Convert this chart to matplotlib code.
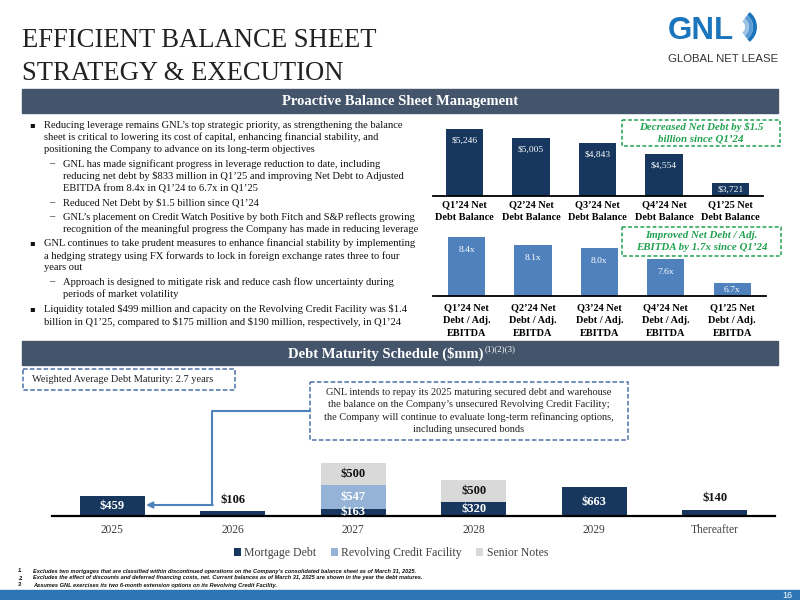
import matplotlib
matplotlib.use("Agg")
import matplotlib.pyplot as plt
from matplotlib.patches import Rectangle, Arc

plt.rcParams['font.family'] = ['Liberation Serif', 'DejaVu Sans']
plt.rcParams['text.parse_math'] = False

# data
quarters_debt = ["Q1’24 Net\nDebt Balance", "Q2’24 Net\nDebt Balance", "Q3’24 Net\nDebt Balance",
                 "Q4’24 Net\nDebt Balance", "Q1’25 Net\nDebt Balance"]
net_debt = [5246, 5005, 4843, 4554, 3721]
net_debt_labels = ["$5,246", "$5,005", "$4,843", "$4,554", "$3,721"]

quarters_lev = ["Q1’24 Net\nDebt / Adj.\nEBITDA", "Q2’24 Net\nDebt / Adj.\nEBITDA", "Q3’24 Net\nDebt / Adj.\nEBITDA",
                "Q4’24 Net\nDebt / Adj.\nEBITDA", "Q1’25 Net\nDebt / Adj.\nEBITDA"]
leverage = [8.4, 8.1, 8.0, 7.6, 6.7]

years = ["2025", "2026", "2027", "2028", "2029", "Thereafter"]
mortgage = [459, 106, 163, 320, 663, 140]
revolver = [0, 0, 547, 0, 0, 0]
senior = [0, 0, 500, 500, 0, 0]

# (marker level, indent level, text)
bullets = [
    (0, 0, "Reducing leverage remains GNL’s top strategic priority, as strengthening the balance"),
    (None, 0, "sheet is critical to lowering its cost of capital, enhancing financial stability, and"),
    (None, 0, "positioning the Company to advance on its long-term objectives"),
    (1, 1, "GNL has made significant progress in leverage reduction to date, including"),
    (None, 1, "reducing net debt by $833 million in Q1’25 and improving Net Debt to Adjusted"),
    (None, 1, "EBITDA from 8.4x in Q1’24 to 6.7x in Q1’25"),
    (1, 1, "Reduced Net Debt by $1.5 billion since Q1’24"),
    (1, 1, "GNL’s placement on Credit Watch Positive by both Fitch and S&P reflects growing"),
    (None, 1, "recognition of the meaningful progress the Company has made in reducing leverage"),
    (0, 0, "GNL continues to take prudent measures to enhance financial stability by implementing"),
    (None, 0, "a hedging strategy using FX forwards to lock in foreign exchange rates three to four"),
    (None, 0, "years out"),
    (1, 1, "Approach is designed to mitigate risk and reduce cash flow uncertainty during"),
    (None, 1, "periods of market volatility"),
    (0, 0, "Liquidity totaled $499 million and capacity on the Revolving Credit Facility was $1.4"),
    (None, 0, "billion in Q1’25, compared to $175 million and $190 million, respectively, in Q1’24"),
]
bullet_y = [125, 137, 150, 164, 176, 189, 203, 217, 229, 243, 256, 268, 282, 294, 309, 322]

footnotes = [
    "Excludes two mortgages that are classified within discontinued operations on the Company’s consolidated balance sheet as of March 31, 2025.",
    "Excludes the effect of discounts and deferred financing costs, net. Current balances as of March 31, 2025 are shown in the year the debt matures.",
    "Assumes GNL exercises its two 6-month extension options on its Revolving Credit Facility.",
]

NAVY = "#17375E"
MID = "#4F81BD"
LIGHT = "#95B3D7"
GREY = "#D9D9D9"
SLATE = "#44546A"
GREEN = "#1FA24F"
BOXBLUE = "#4A72A8"

W, H = 800, 600
fig = plt.figure(figsize=(8, 6), dpi=100)
ov = fig.add_axes([0, 0, 1, 1])
ov.set_xlim(0, W)
ov.set_ylim(H, 0)
ov.axis("off")


def px_axes(left, top, right, bottom):
    a = fig.add_axes([left / W, 1 - bottom / H, (right - left) / W, (bottom - top) / H])
    a.set_facecolor("none")
    for s in ["top", "right", "left"]:
        a.spines[s].set_visible(False)
    a.spines["bottom"].set_linewidth(1.3)
    a.set_yticks([])
    a.tick_params(axis="x", length=0)
    return a


# title + logo
ov.text(22, 47, "EFFICIENT BALANCE SHEET", fontsize=19.2, color="#222222", va="baseline")
ov.text(22, 80, "STRATEGY & EXECUTION", fontsize=19.2, color="#222222", va="baseline")
ov.text(668, 39, "GNL", family="Liberation Sans", fontweight="bold", fontsize=22.5, color="#1B75BC", va="baseline")
for r, c in zip([9, 13, 17], ["#9CC3E6", "#5B9BD5", "#1B75BC"]):
    ov.add_patch(Arc((738, 27), 2 * r, 2 * r, theta1=-52, theta2=52, color=c, lw=2.8))
ov.text(668, 59, "GLOBAL NET LEASE", family="Liberation Sans", fontsize=8.2, color="#333333", va="center")

# header bars
ov.add_patch(Rectangle((22, 89), 756, 24, color=SLATE))
ov.text(400, 101.5, "Proactive Balance Sheet Management", color="white", fontweight="bold", fontsize=10.5,
        ha="center", va="center")
ov.add_patch(Rectangle((22, 341), 756, 24, color=SLATE))
ov.text(483, 353.5, "Debt Maturity Schedule ($mm)", color="white", fontweight="bold", fontsize=10.5,
        ha="right", va="center")
ov.text(485, 349, "(1)(2)(3)", color="white", fontsize=6.5, ha="left", va="center")

# bullets
for (mark, indent, txt), y in zip(bullets, bullet_y):
    if mark == 0:
        ov.text(29, y, "▪", fontsize=6, va="center", color="#111111", family="DejaVu Sans")
    elif mark == 1:
        ov.text(49, y, "–", fontsize=7.6, va="center", color="#111111")
    ov.text(44 if indent == 0 else 63, y, txt, fontsize=7.6, va="center", color="#111111")

# net debt chart
ax1 = px_axes(433, 120, 763, 196)
ax1.bar(range(5), net_debt, width=0.56, color=NAVY)
ax1.set_xlim(-0.474, 4.489)
ax1.set_ylim(3354, 5501)
for i, (v, lab) in enumerate(zip(net_debt, net_debt_labels)):
    ax1.text(i, max(v - 339, (v + 3354) / 2), lab, color="white", fontsize=6.8, ha="center", va="center")
ax1.set_xticks(range(5))
ax1.set_xticklabels(quarters_debt, fontsize=7.4, fontweight="bold", linespacing=1.55)
ax1.tick_params(axis="x", pad=3)

# leverage chart
ax2 = px_axes(433, 230, 766, 296)
ax2.bar(range(5), leverage, width=0.56, color=MID)
ax2.set_xlim(-0.505, 4.51)
ax2.set_ylim(6.22, 8.66)
for i, v in enumerate(leverage):
    ax2.text(i, max(v - 0.48, (v + 6.22) / 2), f"{v:.1f}x", color="white", fontsize=6.8, ha="center", va="center")
ax2.set_xticks(range(5))
ax2.set_xticklabels(quarters_lev, fontsize=7.4, fontweight="bold", linespacing=1.55)
ax2.tick_params(axis="x", pad=5)

# green callouts
for (x0, y0, x1, y1), txt in [((622, 120, 780, 146), "Decreased Net Debt by $1.5\nbillion since Q1’24"),
                              ((622, 227, 781, 256), "Improved Net Debt / Adj.\nEBITDA by 1.7x since Q1’24")]:
    ov.add_patch(Rectangle((x0, y0), x1 - x0, y1 - y0, fill=False, ec=GREEN, lw=1.1, ls=(0, (2.5, 1.5))))
    ov.text((x0 + x1) / 2, (y0 + y1) / 2, txt, color=GREEN, fontsize=7.8, fontweight="bold", fontstyle="italic",
            ha="center", va="center", linespacing=1.35)

# debt maturity chart
ax3 = px_axes(52, 455, 775, 516)
x = range(len(years))
b1 = ax3.bar(x, mortgage, width=0.54, color=NAVY, label="Mortgage Debt")
b2 = ax3.bar(x, revolver, width=0.54, bottom=mortgage, color=LIGHT, label="Revolving Credit Facility")
bot2 = [m + r for m, r in zip(mortgage, revolver)]
b3 = ax3.bar(x, senior, width=0.54, bottom=bot2, color=GREY, label="Senior Notes")
ax3.set_xlim(-0.5, 5.5)
ax3.set_ylim(0, 1399)
ax3.spines["bottom"].set_linewidth(1.6)
for i in x:
    m = mortgage[i]
    if m >= 150:
        ax3.text(i, m / 2, f"${m}", color="white", fontsize=9, fontweight="bold", ha="center", va="center")
    else:
        ax3.annotate(f"${m}", (i, m), xytext=(0, 4), textcoords="offset points", color="#111111",
                     fontsize=9, fontweight="bold", ha="center", va="bottom")
    if revolver[i]:
        ax3.text(i, m + revolver[i] / 2, f"${revolver[i]}", color="white", fontsize=9, fontweight="bold",
                 ha="center", va="center")
    if senior[i]:
        ax3.text(i, bot2[i] + senior[i] / 2, f"${senior[i]}", color="#111111", fontsize=9, fontweight="bold",
                 ha="center", va="center")
ax3.set_xticks(list(x))
ax3.set_xticklabels(years, fontsize=8.3, color="#404040")
ax3.tick_params(axis="x", pad=6)
fig.legend(handles=[b1, b2, b3], loc="center", bbox_to_anchor=(391 / W, 1 - 553 / H), ncol=3, frameon=False,
           fontsize=8.5, handlelength=0.6, handleheight=0.6, handletextpad=0.3, columnspacing=1.2,
           labelcolor="#404040")

# callout boxes
ov.add_patch(Rectangle((23, 369), 212, 21, fill=False, ec=BOXBLUE, lw=1.1, ls=(0, (3, 1.5))))
ov.text(32, 379.5, "Weighted Average Debt Maturity: 2.7 years", fontsize=7.5, va="center", color="#222222")
ov.add_patch(Rectangle((310, 382), 318, 58, fc="white", ec=BOXBLUE, lw=1.1, ls=(0, (3, 1.5))))
ov.text(469, 411, "GNL intends to repay its 2025 maturing secured debt and warehouse\n"
                  "the balance on the Company’s unsecured Revolving Credit Facility;\n"
                  "the Company will continue to evaluate long-term refinancing options,\n"
                  "including unsecured bonds", fontsize=7.5, ha="center", va="center", color="#222222",
        linespacing=1.4)
ov.plot([310, 212, 212], [411, 411, 505], color=MID, lw=1.5)
ov.annotate("", xy=(146, 505), xytext=(212.7, 505),
            arrowprops=dict(arrowstyle="-|>", color=MID, lw=1.5, mutation_scale=9, shrinkA=0, shrinkB=0))

# footnotes
for k, (fy, t) in enumerate(zip([571, 578, 585], footnotes)):
    ov.text(18, fy, f"{k + 1}.", family="Liberation Sans", fontsize=4.1, fontweight="bold", fontstyle="italic",
            va="center", color="#111111")
    ov.text(33, fy, t, family="Liberation Sans", fontsize=4.1, fontweight="bold", fontstyle="italic",
            va="center", color="#111111")

ov.add_patch(Rectangle((0, 590), 800, 10, color="#2E75B6"))
ov.text(787, 595, "16", color="white", family="Liberation Sans", fontsize=6.5, ha="center", va="center")

fig.savefig("out.png", dpi=100)
